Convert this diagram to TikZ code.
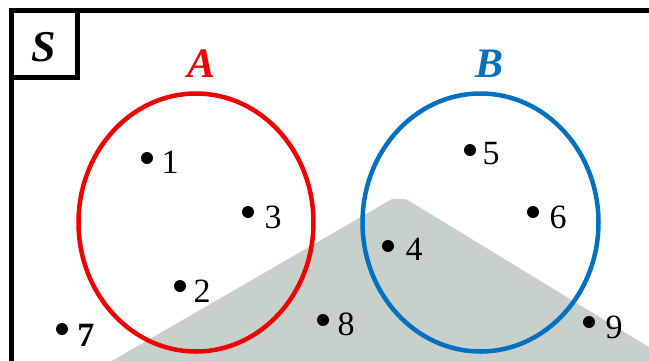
\documentclass[tikz,border=0pt]{standalone}
\usepackage{fontspec}
\setmainfont{Liberation Serif}
\definecolor{setred}{RGB}{240,0,0}
\definecolor{setblue}{RGB}{0,112,192}
\definecolor{regiongray}{RGB}{200,208,204}
\tikzset{
  dotpt/.style={circle,fill=black,inner sep=0pt,minimum size=12pt},
  numlabel/.style={inner sep=0pt,font=\fontsize{34}{34}\selectfont},
  setlabel/.style={inner sep=0pt,font=\fontsize{42}{42}\selectfont\bfseries\itshape},
}
\begin{document}
\begin{tikzpicture}[x=1pt,y=-1pt]
\useasboundingbox (0,0) rectangle (649,360);
% shaded region
\fill[regiongray] (110,362) -- (392,199) -- (406,199) -- (652,349) -- (652,362) -- cycle;
% universe frame
\draw[line width=5pt] (11,365) -- (11,10) -- (655,10);
\draw[line width=5pt] (11,10) rectangle (77,77);
\node[setlabel,font=\fontsize{44}{44}\selectfont\bfseries\itshape] (S) at (44,47) {S};
% sets
\draw[setred,line width=4.5pt] (196,222.5) ellipse [x radius=117.5, y radius=129];
\draw[setblue,line width=4.5pt] (480.5,222.5) ellipse [x radius=118, y radius=129];
\node[setlabel,text=setred] (A) at (202,64) {A};
\node[setlabel,text=setblue] (B) at (490,64) {B};
% elements
\node[dotpt] (d1) at (147,158) {}; \node[numlabel] (n1) at (170,162) {1};
\node[dotpt] (d3) at (248,212) {}; \node[numlabel] (n3) at (273,217) {3};
\node[dotpt] (d2) at (180,286) {}; \node[numlabel] (n2) at (202,291) {2};
\node[dotpt] (d7) at (62,329) {}; \node[numlabel,font=\fontsize{34}{34}\selectfont\bfseries] (n7) at (86,335) {7};
\node[dotpt] (d5) at (470,150) {}; \node[numlabel] (n5) at (491,154) {5};
\node[dotpt] (d6) at (533,212) {}; \node[numlabel] (n6) at (558,217) {6};
\node[dotpt] (d4) at (388,246) {}; \node[numlabel] (n4) at (414,249) {4};
\node[dotpt] (d8) at (323,320) {}; \node[numlabel] (n8) at (346,324) {8};
\node[dotpt] (d9) at (589,322) {}; \node[numlabel] (n9) at (614,327) {9};
\end{tikzpicture}
\end{document}
